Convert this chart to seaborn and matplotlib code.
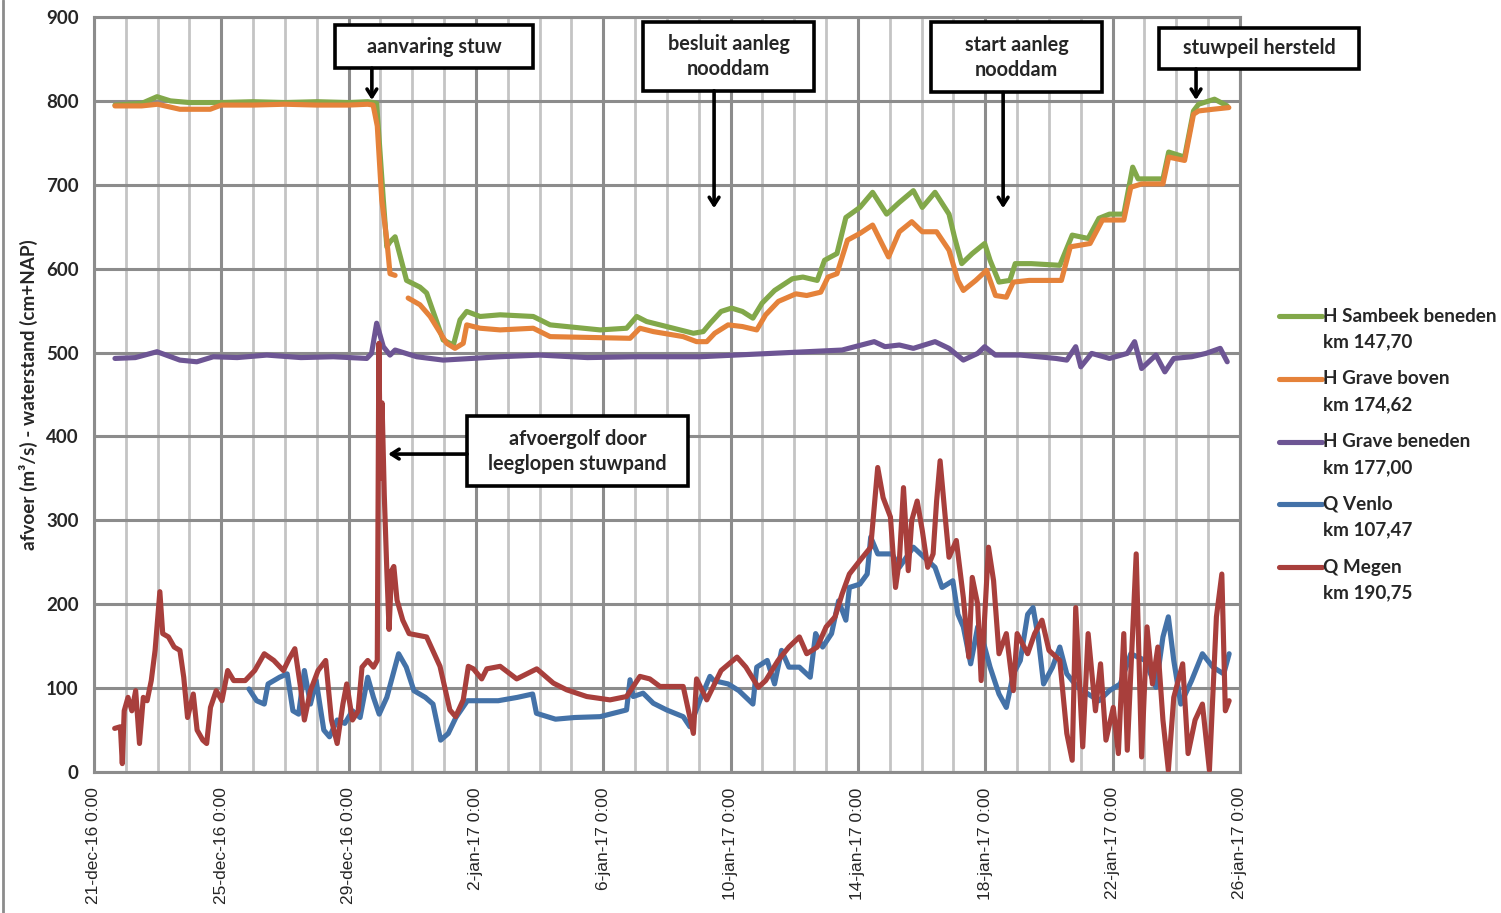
import numpy as np
import pandas as pd
import matplotlib
matplotlib.use("Agg")
import matplotlib.pyplot as plt
import matplotlib.dates as mdates
from matplotlib.lines import Line2D
from matplotlib.patches import Rectangle
import seaborn as sns

START = pd.Timestamp("2016-12-21")

# --- data (days since 21-dec-16 0:00) ---
SAMBEEK_DAY = [0.66, 1.5, 1.98, 2.4, 3.0, 4.0, 5.0, 6.0, 7.0, 8.0, 8.6, 8.77, 8.88, 9.09, 9.2, 9.3,
               9.46, 9.82, 10.24, 10.45, 10.97, 11.29, 11.5, 11.71, 12.13, 12.76, 13.8, 14.33, 15.9,
               16.73, 17.05, 17.36, 17.99, 18.83, 19.14, 19.36, 19.7, 20.03, 20.37, 20.7, 20.99, 21.38,
               21.94, 22.27, 22.72, 22.95, 23.34, 23.62, 24.06, 24.46, 24.9, 25.3, 25.74, 26.02, 26.42,
               26.86, 27.03, 27.26, 27.59, 27.98, 28.15, 28.43, 28.77, 28.94, 29.44, 30.34, 30.73,
               31.23, 31.57, 31.9, 32.35, 32.63, 32.8, 33.58, 33.76, 34.26, 34.54, 34.7, 35.2, 35.6]
SAMBEEK_H = [795, 797, 805, 800, 798, 798, 799, 798, 799, 798, 799, 798, 797, 682, 626, 632,
             638, 586, 578, 571, 515, 509, 539, 549, 543, 545, 543, 533, 527,
             529, 543, 537, 531, 523, 525, 535, 549, 553, 549, 541, 559, 574,
             588, 590, 586, 610, 618, 661, 673, 691, 665, 679, 693, 673, 691,
             665, 638, 606, 618, 630, 610, 584, 586, 606, 606, 604, 640,
             636, 660, 665, 665, 721, 707, 707, 739, 733, 788, 796, 802, 794]

# H Grave boven has a gap in the record just after the collision
GRAVE_BOVEN_DAY_1 = [0.66, 1.5, 2.0, 2.7, 3.65, 4.0, 5.0, 6.0, 7.0, 8.0, 8.6, 8.77, 8.9, 9.04,
                     9.2, 9.3, 9.46]
GRAVE_BOVEN_H_1 = [794, 794, 796, 790, 790, 795, 795, 796, 795, 795, 796, 795, 770, 682,
                   634, 594, 592]
GRAVE_BOVEN_DAY_2 = [9.87, 10.24, 10.56, 11.08, 11.34, 11.6, 11.71, 12.13, 12.76, 13.8, 14.33,
                     16.84, 17.15, 17.57, 18.51, 18.93, 19.25, 19.5, 19.92, 20.37, 20.82, 21.1,
                     21.5, 22.05, 22.39, 22.83, 23.06, 23.34, 23.67, 24.06, 24.46, 24.96, 25.3,
                     25.69, 26.02, 26.47, 26.86, 27.14, 27.31, 27.7, 28.04, 28.32, 28.66, 28.88,
                     29.38, 30.39, 30.67, 31.29, 31.68, 32.35, 32.57, 32.91, 33.58, 33.76, 34.26,
                     34.54, 34.7, 35.15, 35.65]
GRAVE_BOVEN_H_2 = [565, 557, 543, 511, 505, 511, 533, 529, 527, 529, 519,
                   517, 529, 525, 519, 513, 513, 523, 533, 531, 527, 545,
                   561, 570, 568, 572, 590, 594, 634, 642, 652, 614, 644,
                   656, 644, 644, 622, 586, 574, 586, 598, 568, 566, 584,
                   586, 586, 626, 630, 658, 658, 697, 701, 701, 733, 729,
                   784, 788, 790, 792]

GRAVE_BENEDEN_DAY = [0.66, 1.3, 1.98, 2.7, 3.23, 3.75, 4.5, 5.43, 6.5, 7.52, 8.57, 8.72, 8.88, 9.09,
                     9.3, 9.46, 10.14, 10.97, 12.76, 14.0, 15.5, 17.0, 18.5, 19.03, 21.27, 23.5,
                     24.51, 24.85, 25.3, 25.74, 26.42, 26.86, 27.31, 27.76, 27.98, 28.32, 29.1,
                     30.22, 30.56, 30.84, 31.0, 31.34, 31.9, 32.46, 32.69, 32.91, 33.36, 33.64,
                     33.92, 34.48, 34.93, 35.38, 35.6]
GRAVE_BENEDEN_H = [493, 494, 501, 491, 489, 495, 494, 497, 494, 495, 493, 499, 535, 507,
                   497, 503, 495, 491, 495, 497, 494, 495, 495, 495, 499, 503,
                   513, 507, 509, 505, 513, 505, 491, 499, 507, 497, 497,
                   493, 491, 507, 483, 499, 493, 499, 513, 481, 497, 477,
                   493, 495, 499, 505, 489]

VENLO_DAY = [4.87, 5.11, 5.35, 5.47, 5.83, 6.07, 6.25, 6.43, 6.61, 6.8, 6.98, 7.22, 7.4, 7.64,
             7.88, 8.12, 8.36, 8.6, 8.78, 8.96, 9.2, 9.57, 9.81, 10.05, 10.41, 10.65, 10.89,
             11.13, 11.37, 11.73, 12.22, 12.7, 13.3, 13.78, 13.9, 14.5, 15.1, 15.9, 16.73, 16.84,
             16.94, 17.25, 17.57, 17.99, 18.51, 18.72, 19.04, 19.35, 19.47, 19.92, 20.26, 20.7,
             20.82, 21.15, 21.38, 21.6, 21.83, 22.16, 22.5, 22.67, 22.89, 23.17, 23.39, 23.62,
             23.73, 24.06, 24.29, 24.4, 24.62, 25.07, 25.3, 25.74, 26.19, 26.42, 26.64, 26.98,
             27.14, 27.31, 27.54, 27.76, 27.98, 28.15, 28.43, 28.66, 28.88, 29.1, 29.33, 29.5,
             29.66, 29.83, 30.11, 30.34, 30.56, 30.9, 31.23, 31.57, 31.9, 32.24, 32.57, 33.02,
             33.36, 33.58, 33.75, 33.92, 34.14, 34.48, 34.82, 35.15, 35.49, 35.66]
VENLO_Q = [99, 85, 81, 105, 113, 117, 73, 69, 121, 81, 109, 50, 42, 62,
           58, 73, 65, 113, 89, 69, 89, 141, 125, 97, 89, 81, 38,
           46, 65, 85, 85, 85, 89, 93, 70, 63, 65, 66, 74, 110,
           90, 94, 82, 74, 66, 54, 86, 114, 109, 105, 97, 81,
           125, 133, 105, 145, 125, 125, 113, 165, 149, 165, 204, 181,
           220, 224, 236, 280, 260, 260, 244, 268, 252, 244, 220, 228,
           188, 173, 129, 173, 149, 125, 93, 77, 117, 133, 188, 196,
           161, 105, 125, 149, 117, 101, 93, 85, 97, 105, 141, 133,
           101, 161, 185, 133, 81, 109, 141, 125, 117, 141]

MEGEN_DAY = [0.65, 0.83, 0.89, 0.95, 1.07, 1.19, 1.31, 1.43, 1.55, 1.67, 1.8, 1.92, 2.07, 2.16,
             2.34, 2.52, 2.7, 2.82, 2.94, 3.12, 3.24, 3.42, 3.54, 3.66, 3.84, 4.02, 4.2, 4.39,
             4.75, 5.05, 5.35, 5.65, 5.95, 6.13, 6.31, 6.49, 6.61, 6.8, 7.04, 7.28, 7.46, 7.64,
             7.82, 7.94, 8.12, 8.3, 8.42, 8.6, 8.78, 8.9, 8.95, 9.0, 9.05, 9.12, 9.2, 9.27,
             9.35, 9.42, 9.52, 9.7, 9.9, 10.45, 10.87, 11.18, 11.36, 11.6, 11.76, 11.92, 12.18,
             12.34, 12.76, 13.28, 13.91, 14.43, 14.85, 15.48, 16.21, 16.73, 17.15, 17.46, 17.78,
             18.51, 18.83, 18.93, 19.25, 19.7, 20.2, 20.48, 20.87, 21.1, 21.49, 21.83, 22.16,
             22.39, 22.72, 23.0, 23.28, 23.5, 23.73, 24.06, 24.4, 24.62, 24.79, 25.02, 25.18,
             25.3, 25.43, 25.58, 25.69, 25.86, 26.02, 26.19, 26.36, 26.47, 26.58, 26.75, 26.86,
             27.09, 27.31, 27.48, 27.59, 27.76, 27.87, 28.1, 28.26, 28.43, 28.66, 28.88, 29.0,
             29.33, 29.55, 29.78, 30.0, 30.34, 30.56, 30.73, 30.84, 31.06, 31.23, 31.46, 31.62,
             31.79, 32.02, 32.18, 32.35, 32.46, 32.74, 32.91, 33.08, 33.25, 33.42, 33.58, 33.75,
             33.92, 34.2, 34.37, 34.59, 34.82, 35.04, 35.26, 35.43, 35.54, 35.66]
MEGEN_Q = [52, 54, 10, 73, 89, 73, 97, 34, 89, 85, 109, 145, 215, 165,
           161, 149, 145, 113, 65, 93, 50, 38, 34, 77, 97, 85, 121, 109,
           109, 121, 141, 133, 121, 135, 147, 101, 62, 97, 121, 133, 62, 34,
           81, 105, 62, 73, 125, 133, 125, 133, 511, 350, 440, 330, 240, 170,
           240, 245, 205, 181, 165, 161, 126, 74, 66, 86, 126, 123, 111,
           123, 126, 111, 123, 106, 98, 90, 86, 90, 114, 111, 102,
           102, 46, 111, 86, 121, 137, 125, 101, 109, 133, 149, 161,
           141, 149, 173, 185, 212, 236, 252, 268, 363, 327, 304, 220,
           252, 339, 240, 300, 323, 288, 244, 260, 323, 371, 300, 256,
           276, 208, 137, 232, 200, 109, 268, 228, 141, 165, 97, 165,
           141, 165, 181, 145, 133, 46, 14, 196, 30, 165, 73, 129,
           38, 77, 22, 165, 26, 260, 18, 173, 105, 149, 62, 2,
           89, 129, 22, 62, 81, 2, 185, 236, 73, 85]

SERIES_NAMES = ["H Sambeek beneden", "H Grave boven", "H Grave beneden", "Q Venlo", "Q Megen"]
SERIES_KM = ["km 147,70", "km 174,62", "km 177,00", "km 107,47", "km 190,75"]
SERIES_COLORS = ["#82a84a", "#e5823a", "#6d5594", "#4472a8", "#a83f3c"]

TICK_LABELS = ["21-dec-16 0:00", "25-dec-16 0:00", "29-dec-16 0:00", "2-jan-17 0:00",
               "6-jan-17 0:00", "10-jan-17 0:00", "14-jan-17 0:00", "18-jan-17 0:00",
               "22-jan-17 0:00", "26-jan-17 0:00"]
Y_LABEL = "afvoer (m\u00b3/s) - waterstand (cm+NAP)"


def to_frame(days, vals):
    return pd.DataFrame({"t": START + pd.to_timedelta(days, unit="D"), "v": vals})


def dnum(day):
    return mdates.date2num(START + pd.Timedelta(days=day))


sns.set_style("white")
plt.rcParams["font.family"] = ["Lato", "DejaVu Sans"]

fig, ax = plt.subplots(figsize=(15.01, 9.13), dpi=100)
fig.subplots_adjust(left=0.0626, right=0.8261, top=0.9814, bottom=0.1544)

LW = 3.7
series = [
    (SAMBEEK_DAY, SAMBEEK_H, 0),
    (GRAVE_BOVEN_DAY_1, GRAVE_BOVEN_H_1, 1),
    (GRAVE_BOVEN_DAY_2, GRAVE_BOVEN_H_2, 1),
    (GRAVE_BENEDEN_DAY, GRAVE_BENEDEN_H, 2),
    (VENLO_DAY, VENLO_Q, 3),
    (MEGEN_DAY, MEGEN_Q, 4),
]
for days, vals, idx in series:
    sns.lineplot(data=to_frame(days, vals), x="t", y="v", color=SERIES_COLORS[idx], lw=LW,
                 estimator=None, sort=False, legend=False, ax=ax, zorder=3 + idx)

# axes, grid
ax.set_xlim(START, START + pd.Timedelta(days=36))
ax.set_ylim(0, 900)
ax.set_yticks(range(0, 901, 100))
ax.set_xticks(pd.date_range(START, periods=len(TICK_LABELS), freq="4D"))
ax.set_xticklabels(TICK_LABELS, rotation=90, fontsize=12.5, family="Liberation Sans")
ax.xaxis.set_minor_locator(mdates.DayLocator())
ax.set_yticklabels([str(v) for v in range(0, 901, 100)], fontsize=13.5, fontweight="bold")
ax.set_axisbelow(True)
ax.grid(which="major", axis="both", color="#8c8c8c", lw=2.2)
ax.grid(which="minor", axis="x", color="#c4c4c4", lw=2.0)
ax.tick_params(axis="both", which="major", length=7, width=2, color="#8c8c8c", pad=4)
ax.tick_params(axis="x", which="minor", length=0)
for sp in ax.spines.values():
    sp.set_color("#8c8c8c")
    sp.set_linewidth(2.2)
ax.set_xlabel("")
ax.set_ylabel(Y_LABEL, fontsize=13.6, fontweight="bold", labelpad=6)

# annotation boxes: (text, day0, day1, v0, v1)
BOXES = [
    ("aanvaring stuw", 7.57, 13.79, 839, 890),
    ("besluit aanleg\nnooddam", 17.25, 22.62, 812, 894),
    ("start aanleg\nnooddam", 26.3, 31.67, 810, 894),
    ("stuwpeil hersteld", 33.46, 39.74, 838, 887),
    ("afvoergolf door\nleeglopen stuwpand", 11.72, 18.66, 341, 424),
]
for text, d0, d1, v0, v1 in BOXES:
    x0, x1 = dnum(d0), dnum(d1)
    ax.add_patch(Rectangle((x0, v0), x1 - x0, v1 - v0, fc="white", ec="black", lw=2.6,
                           zorder=10, clip_on=False))
    ax.text((x0 + x1) / 2, (v0 + v1) / 2, text, ha="center", va="center", fontsize=14.3,
            fontweight="bold", linespacing=1.3, zorder=11, clip_on=False)

# arrows: (day_from, v_from, day_to, v_to)
ARROWS = [
    (8.73, 839, 8.73, 801),
    (19.48, 812, 19.48, 672),
    (28.56, 810, 28.56, 672),
    (34.62, 838, 34.62, 801),
    (11.72, 379, 9.24, 379),
]
for d0, v0, d1, v1 in ARROWS:
    ax.annotate("", xy=(dnum(d1), v1), xytext=(dnum(d0), v0),
                arrowprops=dict(arrowstyle="->,head_length=0.55,head_width=0.35", lw=2.6,
                                color="black", shrinkA=0, shrinkB=0),
                zorder=12, annotation_clip=False)

# legend on the right, drawn in figure pixels
W, H = 1501, 913
for i, (name, km, col) in enumerate(zip(SERIES_NAMES, SERIES_KM, SERIES_COLORS)):
    y = H - (316 + i * 62.75)
    fig.add_artist(Line2D([1279 / W, 1322 / W], [y / H, y / H], color=col, lw=LW,
                          transform=fig.transFigure))
    fig.text(1323 / W, y / H, name, ha="left", va="center", fontsize=13.6, fontweight="bold")
    fig.text(1323 / W, (y - 26) / H, km, ha="left", va="center", fontsize=13.6,
             fontweight="bold")

# thin frame line at the left edge of the picture
fig.add_artist(Line2D([2.5 / W, 2.5 / W], [0, 1], color="#8c8c8c", lw=2,
                      transform=fig.transFigure))

fig.savefig("out.png", dpi=100)
